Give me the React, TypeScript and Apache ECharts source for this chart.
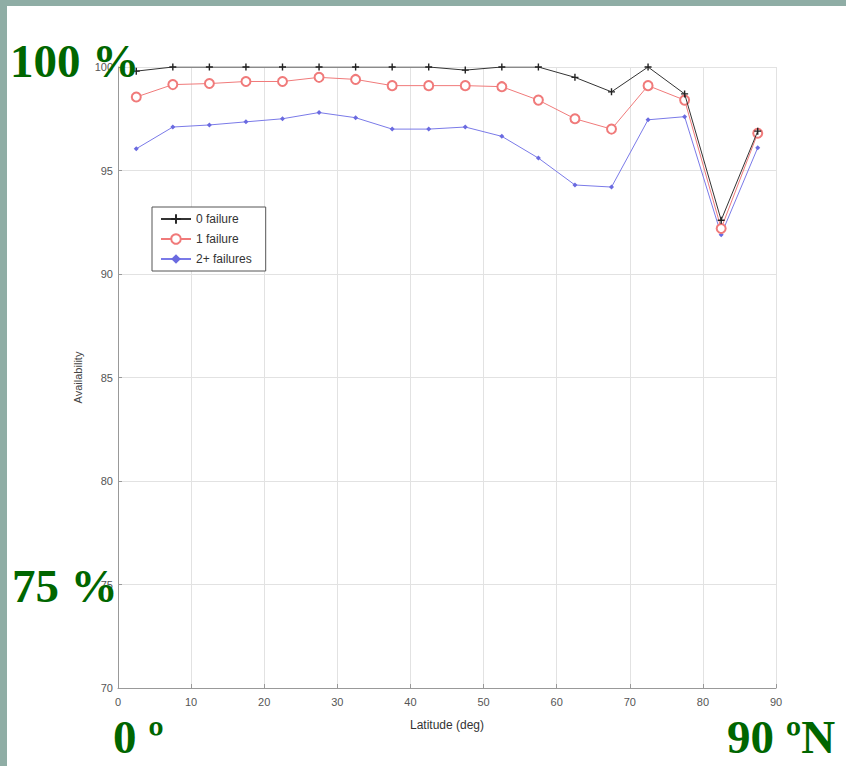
import React, { useEffect, useRef } from "react";
import * as echarts from "echarts";

const latitudes = [2.5, 7.5, 12.5, 17.5, 22.5, 27.5, 32.5, 37.5, 42.5, 47.5, 52.5, 57.5, 62.5, 67.5, 72.5, 77.5, 82.5, 87.5];
const zeroFailure = [99.8, 100, 100, 100, 100, 100, 100, 100, 100, 99.85, 100, 100, 99.5, 98.8, 100, 98.7, 92.6, 96.9];
const oneFailure = [98.55, 99.15, 99.2, 99.3, 99.3, 99.5, 99.4, 99.1, 99.1, 99.1, 99.05, 98.4, 97.5, 97.0, 99.1, 98.4, 92.2, 96.8];
const twoPlusFailures = [96.05, 97.1, 97.2, 97.35, 97.5, 97.8, 97.55, 97.0, 97.0, 97.1, 96.65, 95.6, 94.3, 94.2, 97.45, 97.6, 91.9, 96.1];
const seriesNames = ["0 failure", "1 failure", "2+ failures"];
const overlayLabels = ["100 %", "75 %", "0 º", "90 ºN"];

const PLUS = "path://M4,0 L6,0 L6,4 L10,4 L10,6 L6,6 L6,10 L4,10 L4,6 L0,6 L0,4 L4,4 Z";

export default function App() {
  const ref = useRef<HTMLDivElement>(null);
  useEffect(() => {
    if (!ref.current) return;
    const chart = echarts.init(ref.current, null, { renderer: "svg" });
    const pts = (ys: number[]) => latitudes.map((x, i) => [x, ys[i]]);
    const green = "#006600";
    const bigFont = 'bold 47px "Liberation Serif", "Times New Roman", serif';
    chart.setOption({
      animation: false,
      backgroundColor: "#ffffff",
      grid: { left: 118, top: 67, right: 70, bottom: 78, containLabel: false },
      xAxis: {
        type: "value",
        min: 0,
        max: 90,
        interval: 10,
        name: "Latitude (deg)",
        nameLocation: "middle",
        nameGap: 31,
        nameTextStyle: { fontFamily: "Liberation Sans, Arial", fontSize: 12, color: "#333" },
        axisLine: { show: true, lineStyle: { color: "#999", width: 1 } },
        axisTick: { show: true, inside: true, length: 4, lineStyle: { color: "#999" } },
        axisLabel: { margin: 8, fontFamily: "Liberation Sans, Arial", fontSize: 11, color: "#555" },
        splitLine: { show: true, lineStyle: { color: "#e2e2e2", width: 1 } },
      },
      yAxis: {
        type: "value",
        min: 70,
        max: 100,
        interval: 5,
        name: "Availability",
        nameLocation: "middle",
        nameGap: 34,
        nameRotate: 90,
        nameTextStyle: { fontFamily: "Liberation Sans, Arial", fontSize: 11, color: "#444" },
        axisLine: { show: true, lineStyle: { color: "#999", width: 1 } },
        axisTick: { show: true, inside: true, length: 4, lineStyle: { color: "#999" } },
        axisLabel: { margin: 5, fontFamily: "Liberation Sans, Arial", fontSize: 11, color: "#555" },
        splitLine: { show: true, lineStyle: { color: "#e2e2e2", width: 1 } },
      },
      legend: {
        orient: "vertical",
        left: 152,
        top: 207,
        padding: [6, 14, 6, 8],
        itemGap: 8,
        itemWidth: 30,
        itemHeight: 12,
        backgroundColor: "#ffffff",
        borderColor: "#555",
        borderWidth: 1,
        borderRadius: 0,
        textStyle: { fontFamily: "Liberation Sans, Arial", fontSize: 12, color: "#333" },
        data: seriesNames,
      },
      series: [
        {
          name: seriesNames[0],
          type: "line",
          data: pts(zeroFailure),
          symbol: PLUS,
          symbolSize: 7,
          lineStyle: { color: "#333", width: 1 },
          itemStyle: { color: "#222" },
          z: 4,
        },
        {
          name: seriesNames[1],
          type: "line",
          data: pts(oneFailure),
          symbol: "emptyCircle",
          symbolSize: 9,
          lineStyle: { color: "#f07a7a", width: 1 },
          itemStyle: { color: "#f07a7a", borderColor: "#f07a7a", borderWidth: 1 },
          z: 3,
        },
        {
          name: seriesNames[2],
          type: "line",
          data: pts(twoPlusFailures),
          symbol: "diamond",
          symbolSize: 5,
          lineStyle: { color: "#7a7ae8", width: 1 },
          itemStyle: { color: "#6a6ae0" },
          z: 2,
        },
      ],
      graphic: [
        { type: "rect", silent: true, z: 100, shape: { x: 0, y: 0, width: 846, height: 6 }, style: { fill: "#8fada5" } },
        { type: "rect", silent: true, z: 100, shape: { x: 0, y: 0, width: 7, height: 766 }, style: { fill: "#8fada5" } },
        { type: "text", silent: true, z: 100, x: 10, y: 61, style: { text: overlayLabels[0], font: bigFont, fill: green, verticalAlign: "middle", align: "left" } },
        { type: "text", silent: true, z: 100, x: 12, y: 586, style: { text: overlayLabels[1], font: bigFont, fill: green, verticalAlign: "middle", align: "left" } },
        { type: "text", silent: true, z: 100, x: 113, y: 737, style: { text: overlayLabels[2], font: bigFont, fill: green, verticalAlign: "middle", align: "left" } },
        { type: "text", silent: true, z: 100, x: 727, y: 737, style: { text: overlayLabels[3], font: bigFont, fill: green, verticalAlign: "middle", align: "left" } },
      ],
    });
    return () => chart.dispose();
  }, []);
  return (
    <div
      ref={ref}
      style={{ position: "fixed", left: 0, top: 0, width: 846, height: 766, background: "#fff" }}
    />
  );
}
